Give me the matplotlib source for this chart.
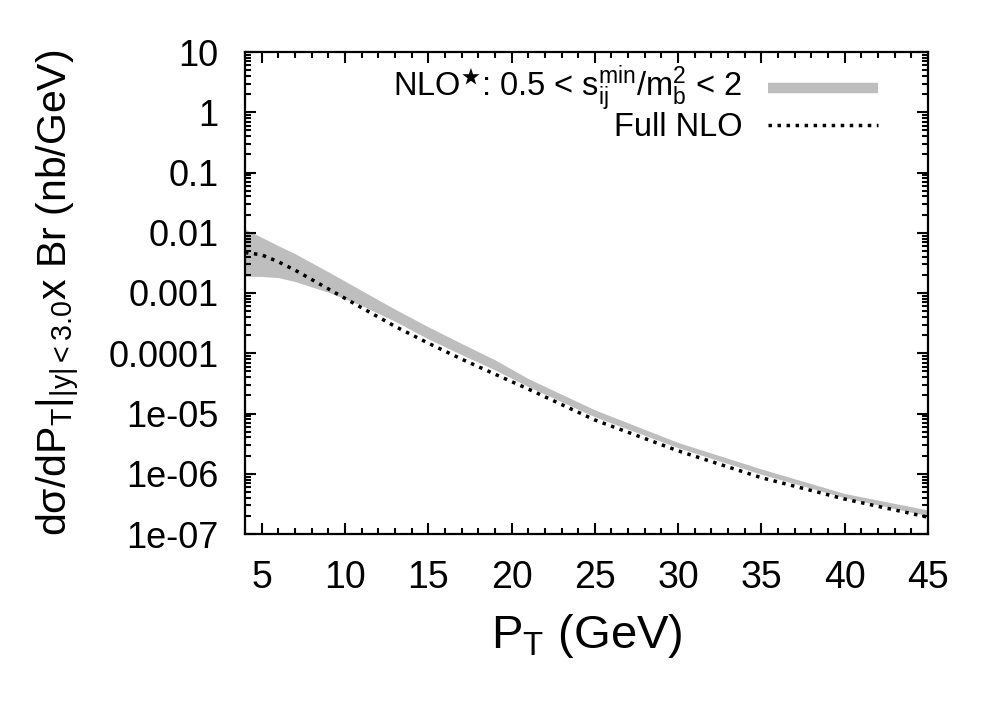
import numpy as np
import matplotlib
matplotlib.use("Agg")
import matplotlib.pyplot as plt
from matplotlib.ticker import LogLocator, FixedLocator, NullFormatter, FixedFormatter

plt.rcParams['font.family'] = ['Liberation Sans', 'DejaVu Sans']
plt.rcParams['mathtext.fontset'] = 'custom'
plt.rcParams['mathtext.rm'] = 'Liberation Sans'
plt.rcParams['mathtext.it'] = 'Liberation Sans'
plt.rcParams['mathtext.bf'] = 'Liberation Sans:bold'
plt.rcParams['mathtext.fallback'] = 'stix'

# ---- data ----
pt = [4, 5, 6, 7, 9, 11, 13, 15, 17, 19, 21, 25, 30, 35, 40, 45]
full_nlo = [4.7e-3, 4.3e-3, 3.3e-3, 2.4e-3, 1.17e-3, 5.7e-4, 2.8e-4, 1.47e-4,
            8.0e-5, 4.5e-5, 2.55e-5, 7.8e-6, 2.4e-6, 8.6e-7, 3.8e-7, 1.9e-7]
band_upper = [1.15e-2, 8.4e-3, 6.1e-3, 4.5e-3, 2.25e-3, 1.1e-3, 5.4e-4, 2.75e-4,
              1.45e-4, 7.8e-5, 3.8e-5, 1.15e-5, 3.3e-6, 1.2e-6, 4.7e-7, 2.5e-7]
band_lower = [1.9e-3, 1.88e-3, 1.8e-3, 1.55e-3, 1.03e-3, 6.2e-4, 3.4e-4, 1.73e-4,
              9.5e-5, 5.3e-5, 2.8e-5, 8.8e-6, 2.7e-6, 9.8e-7, 4.0e-7, 2.0e-7]

xticks = [5, 10, 15, 20, 25, 30, 35, 40, 45]
yticks = [1e-7, 1e-6, 1e-5, 1e-4, 1e-3, 1e-2, 1e-1, 1, 10]
ytick_labels = ['1e-07', '1e-06', '1e-05', '0.0001', '0.001', '0.01', '0.1', '1', '10']

band_label = r'NLO$^{\bigstar}$: 0.5 < s$_{\rm ij}^{\rm min}$/m$_{\rm b}^{2}$ < 2'
line_label = 'Full NLO'
band_color = '#bebebe'
dot_style = (0, (1, 1.6))

W, H = 1000, 701
L, R, T, B = 245, 928, 52, 534

fig = plt.figure(figsize=(10, 7.01), dpi=100)
ax = fig.add_axes([L / W, 1 - B / H, (R - L) / W, (B - T) / H])

ax.fill_between(pt, band_lower, band_upper, color=band_color, lw=0)
ax.plot(pt, full_nlo, color='black', ls=dot_style, lw=2.5)

ax.set_yscale('log')
ax.set_xlim(4, 45)
ax.set_ylim(1e-7, 10)

ax.xaxis.set_major_locator(FixedLocator(xticks))
ax.xaxis.set_minor_locator(FixedLocator(np.arange(4, 46, 1)))
ax.set_xticklabels([str(t) for t in xticks])
ax.yaxis.set_major_locator(FixedLocator(yticks))
ax.yaxis.set_major_formatter(FixedFormatter(ytick_labels))
ax.yaxis.set_minor_locator(LogLocator(base=10, subs=np.arange(2, 10), numticks=20))
ax.yaxis.set_minor_formatter(NullFormatter())

ax.tick_params(which='both', direction='in', top=True, right=True, width=1.5)
ax.tick_params(which='major', length=8)
ax.tick_params(which='minor', length=4.5)
ax.tick_params(axis='x', which='major', pad=19, labelsize=27)
ax.tick_params(axis='y', which='major', pad=19, labelsize=26)
for s in ax.spines.values():
    s.set_linewidth(1.6)

ax.set_xlabel(r'P$_{\rm T}$ (GeV)', fontsize=34, labelpad=11)
ax.set_ylabel(r'd$\sigma$/dP$_{\rm T}$|$_{|\rm y|<3.0}$x Br (nb/GeV)', fontsize=29.5)
ax.yaxis.set_label_coords(-0.238, 0.5)

# legend (drawn by hand, gnuplot-style: text right-aligned, sample on the right)
def fx(px):
    return (px - L) / (R - L)

def fy(py):
    return (B - py) / (B - T)

ax.text(fx(742), fy(88), band_label, transform=ax.transAxes, ha='right', va='center', fontsize=23.5)
ax.plot([fx(768), fx(878)], [fy(88), fy(88)], transform=ax.transAxes, color=band_color,
        lw=7.5, solid_capstyle='butt', clip_on=False)
ax.text(fx(742), fy(128), line_label, transform=ax.transAxes, ha='right', va='center', fontsize=23.5)
ax.plot([fx(768), fx(878)], [fy(125), fy(125)], transform=ax.transAxes, color='black',
        lw=2.5, ls=dot_style, clip_on=False)

fig.savefig('out.png', dpi=100)
